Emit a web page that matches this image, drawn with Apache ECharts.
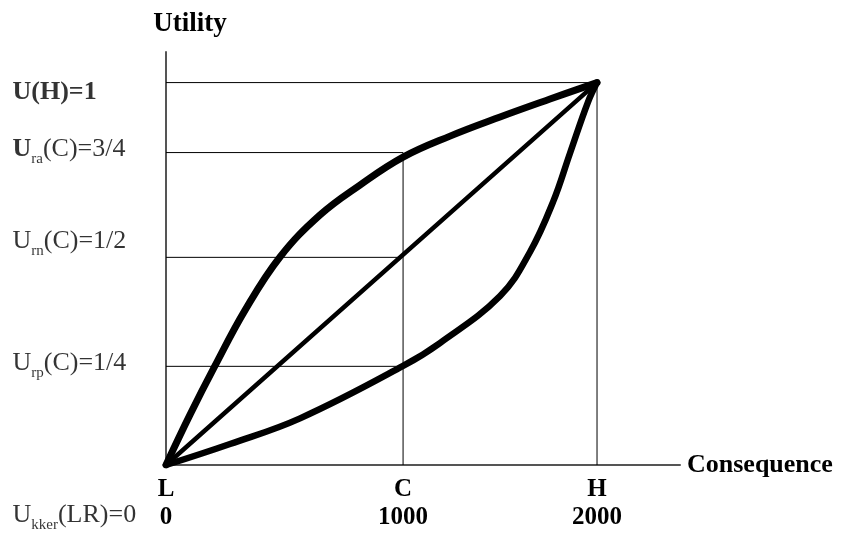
<!DOCTYPE html>
<html>
<head>
<meta charset="utf-8">
<script src="https://cdn.jsdelivr.net/npm/echarts@6/dist/echarts.min.js"></script>
<style>html,body{margin:0;padding:0;background:#fff}#c{width:844px;height:536px}</style>
</head>
<body>
<div id="c"></div>
<script>
// ---- data (schematic units) ----
const xTickPositions = [0, 1100, 2000];          // where L, C, H are drawn
const xTickLetters   = ['L', 'C', 'H'];
const xTickValues    = ['0', '1000', '2000'];

const utilityLevels  = [1, 0.817, 0.543, 0.258, 0]; // drawn heights of the guide lines
const utilityLabels  = [
  '{ub|U(H)=1}',
  '{ub|U}{sub|ra}{r|(C)=3/4}',
  '{r|U}{sub|rn}{r|(C)=1/2}',
  '{r|U}{sub|rp}{r|(C)=1/4}',
  '{r|U}{sub|kker}{r|(LR)=0}'
];

const riskAverseX = [0, 111, 227, 367, 529, 715, 900, 1100, 1318, 1550, 1782, 2000];
const riskAverseY = [0, 0.131, 0.259, 0.405, 0.544, 0.654, 0.732, 0.805, 0.860, 0.910, 0.957, 1];

const riskProneX = [0, 297, 622, 1100, 1271, 1550, 1689, 1796, 1875, 1958, 2000];
const riskProneY = [0, 0.055, 0.122, 0.259, 0.319, 0.442, 0.557, 0.688, 0.816, 0.949, 1];

const riskNeutralX = [0, 2000];
const riskNeutralY = [0, 1];

// ---- build ----
const zip = (xs, ys) => xs.map((x, i) => [x, ys[i]]);
const serif = 'Liberation Serif';
const xC = xTickPositions[1], xH = xTickPositions[2];

const guide = (data) => ({
  type: 'line', data, symbol: 'none', silent: true, z: 1,
  lineStyle: { color: '#000', width: 1 }
});

const labelOffsets = [[-153, 10], [-153, -3], [-153, -16], [-153, -3], [-153, 51]];

const option = {
  animation: false,
  backgroundColor: '#fff',
  grid: { left: 166, right: 164, top: 52, bottom: 71 },
  xAxis: {
    type: 'value', min: 0, max: 2385,
    name: 'Consequence', nameLocation: 'end', nameGap: 7,
    nameTextStyle: { fontFamily: serif, fontWeight: 'bold', fontSize: 26, color: '#000', verticalAlign: 'middle' },
    axisLine: { show: true, onZero: false, lineStyle: { color: '#555', width: 2 } },
    axisTick: { show: false },
    splitLine: { show: false },
    axisLabel: {
      customValues: xTickPositions,
      margin: 11,
      formatter: (v) => {
        const i = xTickPositions.indexOf(v);
        return i < 0 ? '' : '{b|' + xTickLetters[i] + '}\n{b|' + xTickValues[i] + '}';
      },
      rich: { b: { fontFamily: serif, fontWeight: 'bold', fontSize: 25, color: '#000', lineHeight: 28 } }
    }
  },
  yAxis: {
    type: 'value', min: 0, max: 1.08,
    name: 'Utility', nameLocation: 'end', nameGap: 14,
    nameTextStyle: { fontFamily: serif, fontWeight: 'bold', fontSize: 27, color: '#000', lineHeight: 27, padding: [0, 0, 0, 48], align: 'center', verticalAlign: 'bottom' },
    axisLine: { show: true, onZero: false, lineStyle: { color: '#555', width: 2 } },
    axisTick: { show: false },
    axisLabel: { show: false },
    splitLine: { show: false }
  },
  series: [
    guide([[0, utilityLevels[0]], [xH, utilityLevels[0]], [xH, 0]]),
    guide([[0, utilityLevels[1]], [xC, utilityLevels[1]], [xC, 0]]),
    guide([[0, utilityLevels[2]], [xC, utilityLevels[2]]]),
    guide([[0, utilityLevels[3]], [xC, utilityLevels[3]]]),
    {
      name: 'risk averse', type: 'line', data: zip(riskAverseX, riskAverseY),
      symbol: 'none', smooth: 0.4, z: 3,
      lineStyle: { color: '#000', width: 7, cap: 'round', join: 'round' }
    },
    {
      name: 'risk neutral', type: 'line', data: zip(riskNeutralX, riskNeutralY),
      symbol: 'none', z: 3,
      lineStyle: { color: '#000', width: 4.5, cap: 'round' }
    },
    {
      name: 'risk prone', type: 'line', data: zip(riskProneX, riskProneY),
      symbol: 'none', smooth: 0.4, z: 3,
      lineStyle: { color: '#000', width: 6.5, cap: 'round', join: 'round' }
    },
    {
      name: 'utility labels', type: 'scatter', symbolSize: 1, silent: true, z: 4,
      itemStyle: { color: 'rgba(0,0,0,0)' },
      data: utilityLevels.map((u, i) => ({
        value: [0, u],
        label: { position: labelOffsets[i] }
      })),
      label: {
        show: true, align: 'left', verticalAlign: 'middle',
        formatter: (p) => utilityLabels[p.dataIndex],
        rich: {
          ub: { fontFamily: serif, fontWeight: 'bold', fontSize: 26, color: '#000' },
          r: { fontFamily: serif, fontSize: 26, color: '#000' },
          sub: { fontFamily: serif, fontSize: 15, color: '#000', padding: [20, 0, 0, 0] }
        }
      }
    }
  ]
};

const chart = echarts.init(document.getElementById('c'), null, { renderer: 'canvas' });
chart.setOption(option);
</script>
</body>
</html>
